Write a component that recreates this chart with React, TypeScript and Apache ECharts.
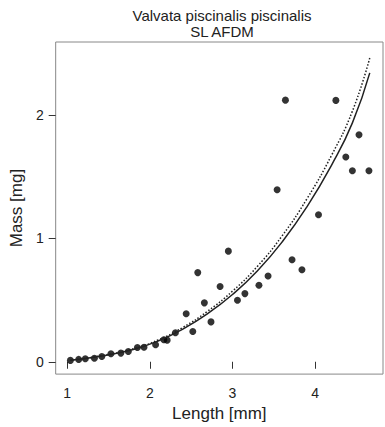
import React, { useEffect, useRef } from "react";
import * as echarts from "echarts";

const titleLines = ["Valvata piscinalis piscinalis", "SL AFDM"];
const xName = "Length [mm]";
const yName = "Mass [mg]";
const xTicks = [1, 2, 3, 4];
const yTicks = [0, 1, 2];

const lengths = [
  1.04, 1.14, 1.22, 1.33, 1.42, 1.53, 1.65, 1.74, 1.85, 1.93, 2.07, 2.17, 2.21,
  2.31, 2.44, 2.52, 2.58, 2.66, 2.74, 2.85, 2.95, 3.06, 3.15, 3.32, 3.43, 3.54,
  3.64, 3.72, 3.84, 4.04, 4.25, 4.37, 4.45, 4.53, 4.65,
];
const masses = [
  0.011, 0.019, 0.024, 0.028, 0.043, 0.065, 0.07, 0.083, 0.116, 0.118, 0.138,
  0.178, 0.175, 0.235, 0.389, 0.245, 0.722, 0.477, 0.323, 0.609, 0.896, 0.498,
  0.552, 0.619, 0.695, 1.393, 2.119, 0.826, 0.745, 1.191, 2.117, 1.658, 1.547,
  1.838, 1.547,
];

const curveL = [1.04, 1.4, 1.8, 2.1, 2.4, 2.7, 3.0, 3.3, 3.6, 3.9, 4.2, 4.45, 4.66];
const solidM = [0.013, 0.045, 0.1, 0.168, 0.265, 0.39, 0.545, 0.735, 0.97, 1.255, 1.595, 1.935, 2.34];
const dottedM = [0.013, 0.047, 0.105, 0.176, 0.278, 0.41, 0.572, 0.772, 1.02, 1.32, 1.675, 2.03, 2.46];

const FONT = "Liberation Sans, Arial, sans-serif";
const TEXT = "#222";

export default function App() {
  const ref = useRef<HTMLDivElement>(null);
  useEffect(() => {
    if (!ref.current) return;
    const chart = echarts.init(ref.current, undefined, { renderer: "svg" });
    chart.setOption({
      animation: false,
      backgroundColor: "#fff",
      title: {
        text: titleLines.join("\n"),
        left: 217,
        textAlign: "center",
        top: 2,
        textStyle: {
          fontFamily: FONT,
          fontSize: 15,
          fontWeight: "normal",
          color: TEXT,
          lineHeight: 16,
        },
      },
      grid: {
        left: 52,
        right: 2,
        top: 42,
        bottom: 52,
        show: true,
        borderColor: "#888",
        borderWidth: 1,
      },
      xAxis: {
        type: "value",
        min: 0.862,
        max: 4.82,
        name: xName,
        nameLocation: "middle",
        nameGap: 27,
        nameTextStyle: { fontFamily: FONT, fontSize: 17, color: TEXT },
        axisLine: { show: false },
        splitLine: { show: false },
        axisTick: {
          show: true,
          inside: false,
          length: 7,
          customValues: xTicks,
          lineStyle: { color: "#333", width: 1 },
        },
        axisLabel: {
          customValues: xTicks,
          margin: 12,
          fontFamily: FONT,
          fontSize: 14,
          color: TEXT,
        },
      },
      yAxis: {
        type: "value",
        min: -0.1,
        max: 2.59,
        name: yName,
        nameLocation: "middle",
        nameGap: 25,
        nameTextStyle: { fontFamily: FONT, fontSize: 17, color: TEXT },
        axisLine: { show: false },
        splitLine: { show: false },
        axisTick: {
          show: true,
          inside: false,
          length: 7,
          customValues: yTicks,
          lineStyle: { color: "#333", width: 1 },
        },
        axisLabel: {
          customValues: yTicks,
          margin: 12,
          fontFamily: FONT,
          fontSize: 14,
          color: TEXT,
        },
      },
      series: [
        {
          type: "line",
          data: curveL.map((l, i) => [l, dottedM[i]]),
          smooth: true,
          showSymbol: false,
          lineStyle: { color: "#222", width: 1.5, type: [1.5, 1.8] },
        },
        {
          type: "line",
          data: curveL.map((l, i) => [l, solidM[i]]),
          smooth: true,
          showSymbol: false,
          lineStyle: { color: "#222", width: 1.5 },
        },
        {
          type: "scatter",
          data: lengths.map((l, i) => [l, masses[i]]),
          symbol: "circle",
          symbolSize: 7,
          itemStyle: { color: "#000" },
        },
      ],
    });
    return () => chart.dispose();
  }, []);
  return (
    <div
      ref={ref}
      style={{ position: "fixed", left: 0, top: 0, width: 385, height: 427 }}
    />
  );
}
